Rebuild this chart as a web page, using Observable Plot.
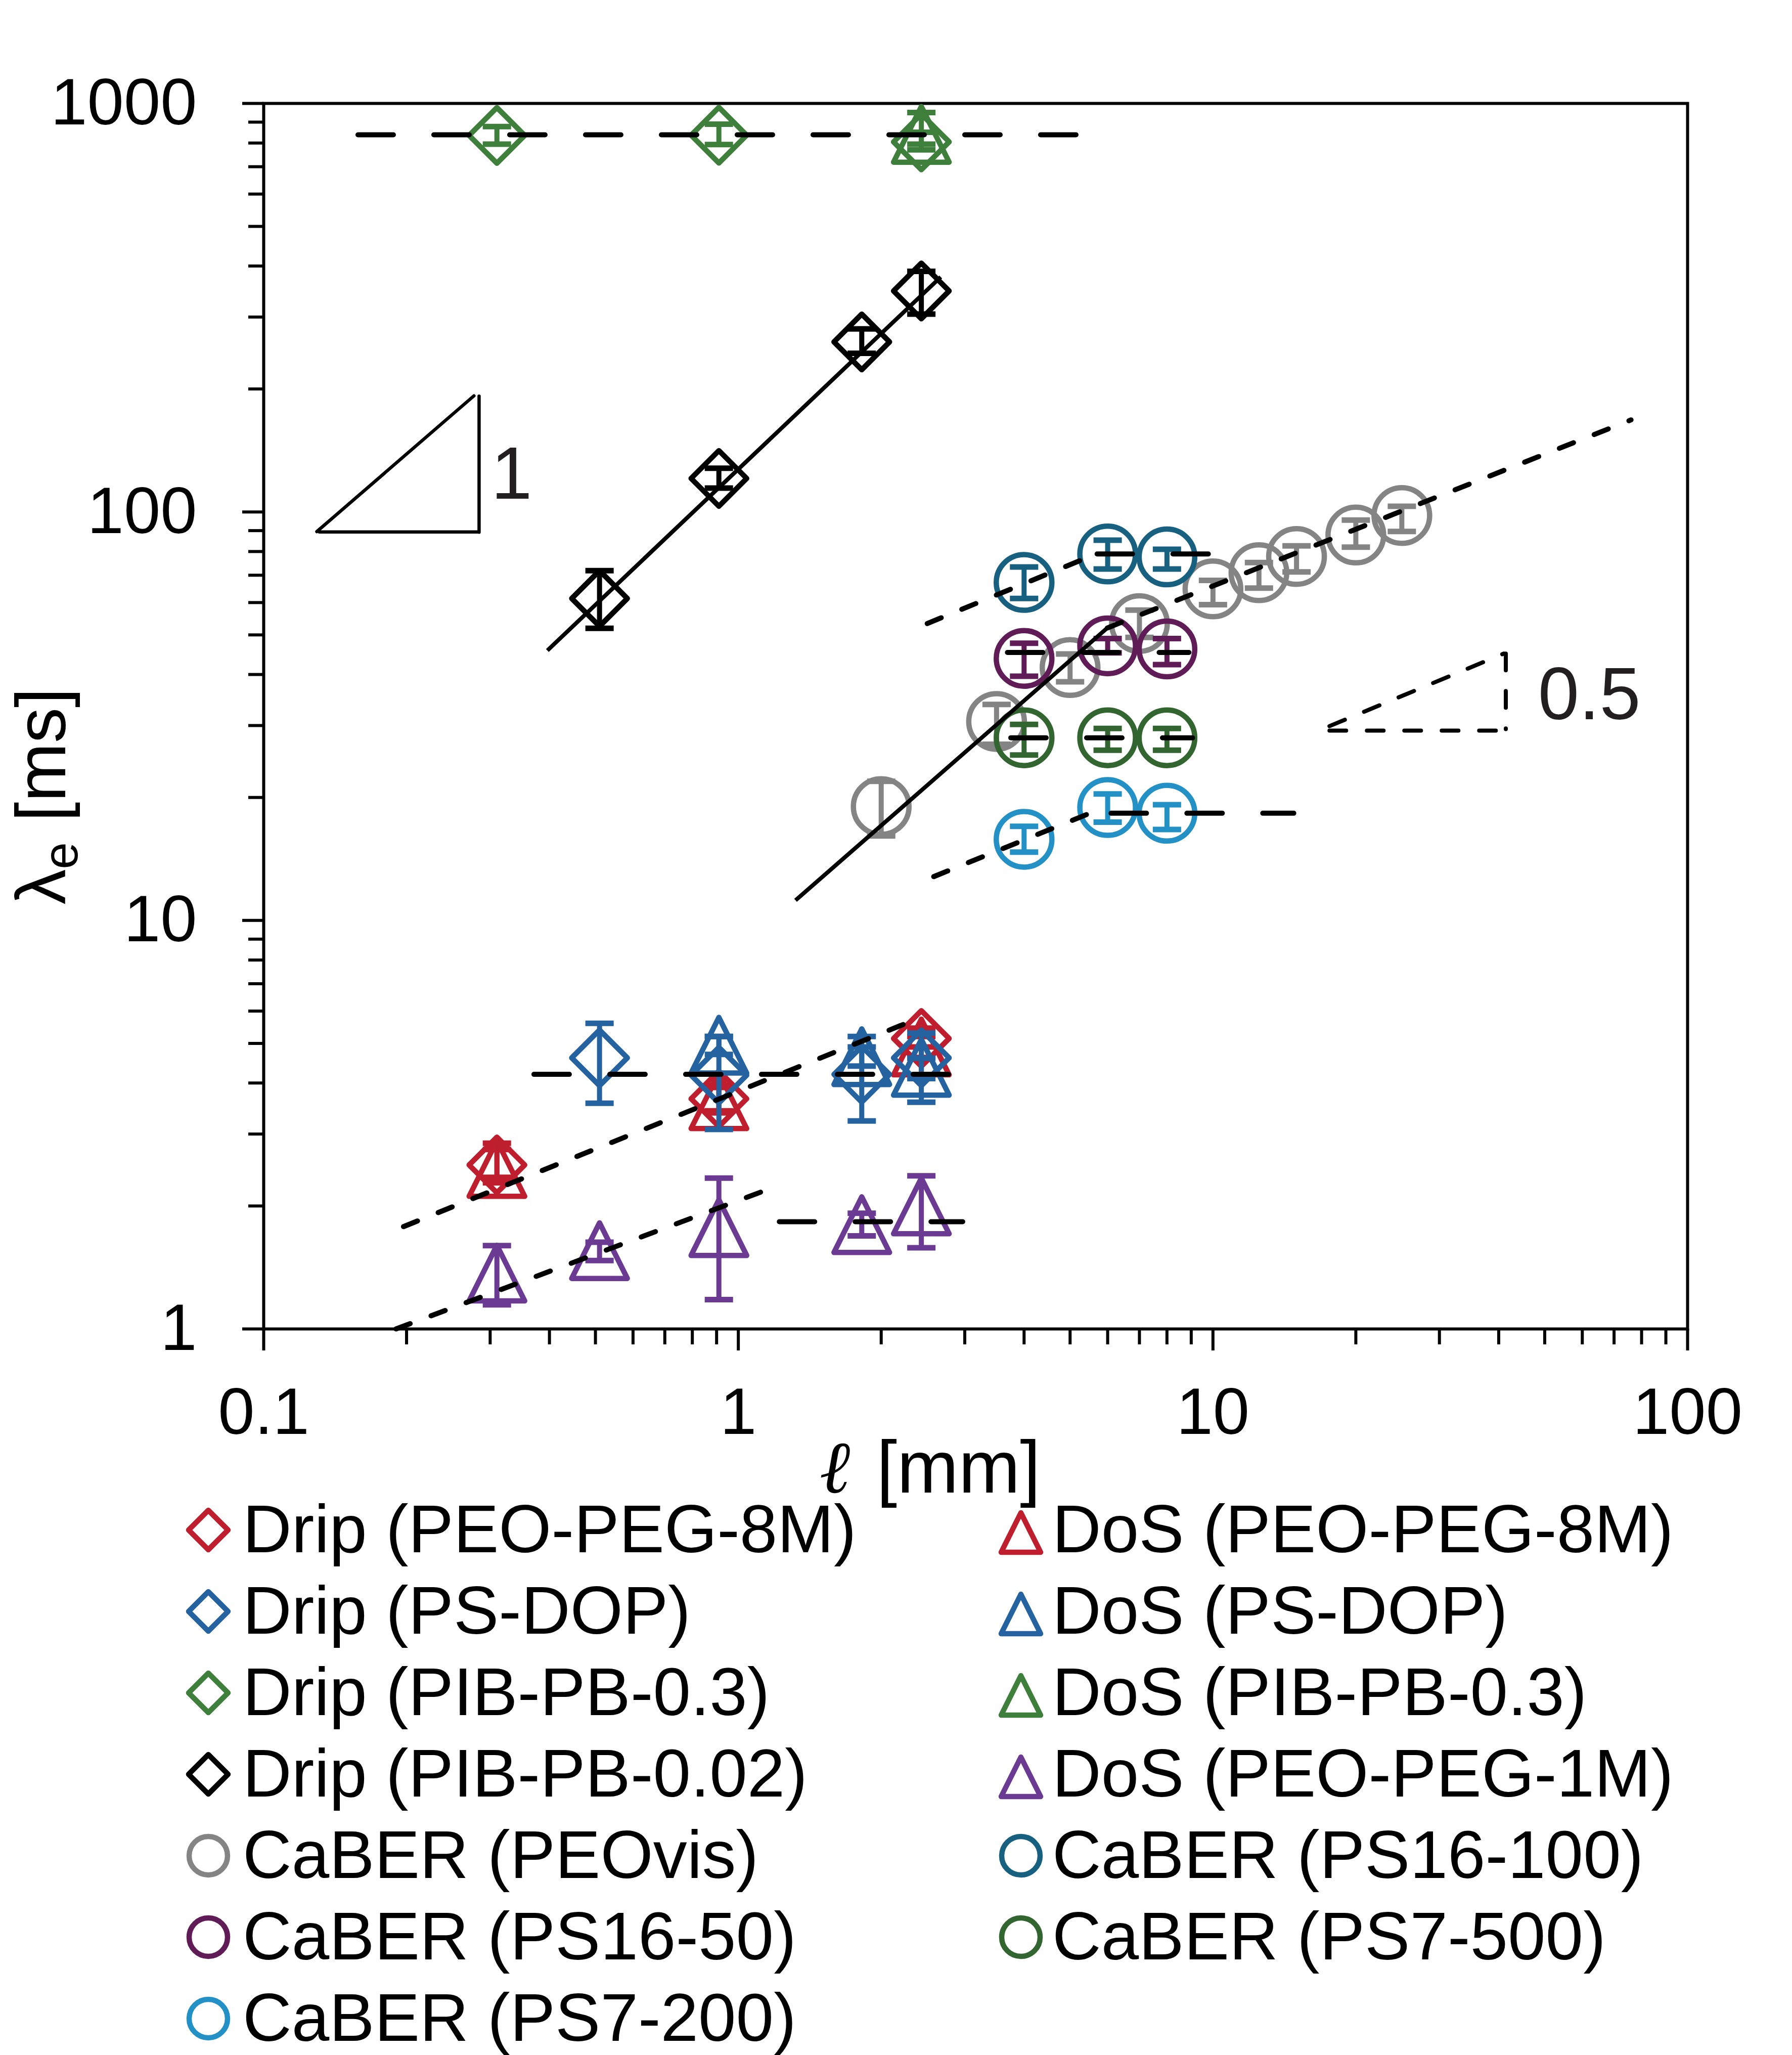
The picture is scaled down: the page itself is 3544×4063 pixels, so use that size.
<!DOCTYPE html>
<html><head><meta charset="utf-8">
<script src="https://cdn.jsdelivr.net/npm/d3@7"></script>
<script src="https://cdn.jsdelivr.net/npm/@observablehq/plot@0.6"></script>
<style>
html,body{margin:0;padding:0;background:#fff;}
#wrap{position:relative;width:3544px;height:4063px;font-family:"Liberation Sans",Arial,Helvetica,sans-serif;}
#wrap svg{position:absolute;left:0;top:0;}
</style></head><body><div id="wrap"></div>
<script>
// ---------- axis ticks ----------
const xTicks = [0.1, 1, 10, 100];
const xTickLabels = ["0.1", "1", "10", "100"];
const yTicks = [1, 10, 100, 1000];
const yTickLabels = ["1", "10", "100", "1000"];
const minorSteps = [2, 3, 4, 5, 6, 7, 8, 9];

// ---------- series: [ℓ (mm), λe (ms), error low, error high] ----------
const dripPEOPEG8M = [[0.31, 2.52, 2.35, 2.85], [0.91, 3.66, 3.42, 3.95], [2.43, 5.14, 4.9, 5.45]];
const dosPEOPEG8M  = [[0.31, 2.47, 2.28, 2.75], [0.91, 3.62, 3.38, 3.9], [2.43, 4.9, 4.62, 5.2]];
const dripPSDOP    = [[0.51, 4.61, 3.57, 5.6], [0.91, 4.18, 3.08, 5.2], [1.82, 4.2, 3.23, 5.2], [2.43, 4.61, 3.59, 5.3]];
const dosPSDOP     = [[0.91, 4.95, 4.7, 5.2], [1.82, 4.64, 4.4, 4.9], [2.43, 4.37, 4.1, 4.6]];
const dripPIBPB03  = [[0.31, 835, 795, 878], [0.91, 836, 793, 890], [2.43, 805, 770, 850]];
const dosPIBPB03   = [[2.43, 840, 795, 950]];
const dripPIBPB002 = [[0.51, 61.4, 51.9, 71.8], [0.91, 120.8, 114.4, 127.9], [1.82, 260.8, 244.5, 280.6], [2.43, 347.5, 305, 388]];
const dosPEOPEG1M  = [[0.31, 1.37, 1.146, 1.6], [0.51, 1.555, 1.47, 1.63], [0.91, 1.77, 1.18, 2.34], [1.82, 1.8, 1.69, 1.92], [2.43, 2.0, 1.58, 2.37]];
const caberPEOvis  = [[2, 19.0, 16.1, 21.9], [3.5, 30.7, 27.0, 33.8], [5, 41.6, 38.4, 44.9], [7, 53.3, 49.3, 57.5], [10, 64.8, 59.3, 68.0], [12.5, 71.0, 65.1, 75.2], [15, 77.8, 71.3, 82.6], [20, 87.8, 82.0, 95.5], [25, 98.0, 89.6, 103.2]];
const caberPS16_100 = [[4, 67.2, 61.4, 73.3], [6, 78.9, 72.5, 85.3], [8, 77.6, 72.5, 81.0]];
const caberPS16_50  = [[4, 43.8, 39.6, 47.7], [6, 47.0, 45.2, 49.0], [8, 46.2, 42.3, 49.0]];
const caberPS7_500  = [[4, 28.0, 25.4, 30.2], [6, 28.0, 26.1, 29.5], [8, 28.0, 26.1, 29.5]];
const caberPS7_200  = [[4, 15.8, 14.7, 17.0], [6, 18.9, 17.4, 20.4], [8, 18.3, 16.7, 19.2]];

// ---------- fit lines: [x1, y1, x2, y2] ----------
const fitSolid   = [[0.396, 45.8, 2.67, 376], [1.32, 11.2, 5.99, 52.0]];
const fitSlope   = [[5.99, 52.0, 76, 168], [2.50, 53.3, 5.64, 78.7], [2.58, 12.8, 5.86, 18.85], [0.197, 1.78, 2.44, 5.81], [0.19, 1.0, 1.16, 2.2]];
const fitPlateau = [[0.158, 838, 5.27, 838], [0.371, 4.2, 2.84, 4.2], [1.22, 1.83, 2.97, 1.83], [5.7, 78.9, 10.0, 78.9], [3.69, 45.3, 8.9, 45.3], [3.75, 28.0, 9.06, 28.0], [6.1, 18.3, 14.8, 18.3]];
// slope triangles
const slopeOneTriangle  = [[0.1294, 89.5, 0.2773, 192.4], [0.131, 89.3, 0.283, 89.3], [0.2843, 192, 0.2843, 89.2]];
const slopeHalfTriangle = [[17.6, 29.9, 41.0, 45.0], [17.6, 29.15, 40.9, 29.15], [41.4, 45.0, 41.4, 29.4]];
const slopeLabelText = ["1", "0.5"];
const slopeLabelX = [0.3014, 48.4];
const slopeLabelY = [107.7, 31.1];

// ---------- series metadata ----------
const seriesNames  = ["Drip (PEO-PEG-8M)", "DoS (PEO-PEG-8M)", "Drip (PS-DOP)", "DoS (PS-DOP)", "Drip (PIB-PB-0.3)", "DoS (PIB-PB-0.3)", "Drip (PIB-PB-0.02)", "DoS (PEO-PEG-1M)", "CaBER (PEOvis)", "CaBER (PS16-100)", "CaBER (PS16-50)", "CaBER (PS7-500)", "CaBER (PS7-200)"];
const seriesData   = [dripPEOPEG8M, dosPEOPEG8M, dripPSDOP, dosPSDOP, dripPIBPB03, dosPIBPB03, dripPIBPB002, dosPEOPEG1M, caberPEOvis, caberPS16_100, caberPS16_50, caberPS7_500, caberPS7_200];
const seriesColors = ["#be1e2d", "#be1e2d", "#2462a0", "#2462a0", "#3f7f3c", "#3f7f3c", "#000000", "#6b3a93", "#848484", "#176080", "#5f1c57", "#326530", "#2390c6"];
const seriesShapes = ["diamond", "triangle", "diamond", "triangle", "diamond", "triangle", "diamond", "triangle", "circle", "circle", "circle", "circle", "circle"];
const legendLeft  = ["Drip (PEO-PEG-8M)", "Drip (PS-DOP)", "Drip (PIB-PB-0.3)", "Drip (PIB-PB-0.02)", "CaBER (PEOvis)", "CaBER (PS16-50)", "CaBER (PS7-200)"];
const legendRight = ["DoS (PEO-PEG-8M)", "DoS (PS-DOP)", "DoS (PIB-PB-0.3)", "DoS (PEO-PEG-1M)", "CaBER (PS16-100)", "CaBER (PS7-500)"];

// ---------- symbols ----------
const diamondSym = {draw(c, s) { const r = Math.sqrt(s / Math.PI); c.moveTo(0, -r); c.lineTo(r, 0); c.lineTo(0, r); c.lineTo(-r, 0); c.closePath(); }};
const triangleSym = {draw(c, s) { const r = Math.sqrt(s / Math.PI); c.moveTo(0, -r); c.lineTo(r, r); c.lineTo(-r, r); c.closePath(); }};
const capSym = {draw(c, s) { const r = Math.sqrt(s / Math.PI); c.moveTo(-r, 0); c.lineTo(r, 0); }};
const symOf = {diamond: diamondSym, triangle: triangleSym, circle: d3.symbolCircle};

// ---------- layout ----------
const W = 3544, H = 3000, ML = 521, MR = 3544 - 3337, MT = 204, MB = H - 2627;
const FONT = "Liberation Sans, Arial, Helvetica, sans-serif";

const xMinor = xTicks.slice(0, -1).flatMap(d => minorSteps.map(k => d * k));
const yMinor = yTicks.slice(0, -1).flatMap(d => minorSteps.map(k => d * k));
const xFmt = new Map(xTicks.map((t, i) => [t, xTickLabels[i]]));
const yFmt = new Map(yTicks.map((t, i) => [t, yTickLabels[i]]));
const seg = a => a.map(([x1, y1, x2, y2]) => ({x1, y1, x2, y2}));

function at(text, sx, sy, o) {
  return Plot.text([text], {text: d => d, frameAnchor: "top-left", dx: sx - ML, dy: sy - MT,
    lineAnchor: "bottom", textAnchor: "start", fill: "#000", fontFamily: FONT, ...o});
}

const marks = [Plot.frame({stroke: "black", strokeWidth: 6})];

seriesData.forEach((data, i) => {
  const rows = data.map(([x, y, lo, hi]) => ({x, y, lo, hi}));
  const col = seriesColors[i];
  marks.push(
    Plot.ruleX(rows, {x: "x", y1: "lo", y2: "hi", stroke: col, strokeWidth: 10}),
    Plot.dot(rows, {x: "x", y: "lo", symbol: capSym, r: 28, stroke: col, strokeWidth: 11, fill: "none", strokeLinecap: "butt"}),
    Plot.dot(rows, {x: "x", y: "hi", symbol: capSym, r: 28, stroke: col, strokeWidth: 11, fill: "none", strokeLinecap: "butt"}),
    Plot.dot(rows, {x: "x", y: "y", symbol: symOf[seriesShapes[i]], r: 55, stroke: col, strokeWidth: 10.5, fill: "none", strokeLinejoin: "round"})
  );
});

marks.push(
  Plot.link(seg(fitSolid), {x1: "x1", y1: "y1", x2: "x2", y2: "y2", stroke: "black", strokeWidth: 8}),
  Plot.link(seg(fitSlope), {x1: "x1", y1: "y1", x2: "x2", y2: "y2", stroke: "black", strokeWidth: 10, strokeDasharray: "30,44", strokeLinecap: "round"}),
  Plot.link(seg(fitPlateau), {x1: "x1", y1: "y1", x2: "x2", y2: "y2", stroke: "black", strokeWidth: 10, strokeDasharray: "70,80", strokeLinecap: "round"}),
  Plot.link(seg(slopeOneTriangle), {x1: "x1", y1: "y1", x2: "x2", y2: "y2", stroke: "black", strokeWidth: 6.5, strokeLinecap: "round"}),
  Plot.link(seg(slopeHalfTriangle), {x1: "x1", y1: "y1", x2: "x2", y2: "y2", stroke: "black", strokeWidth: 8, strokeDasharray: "33,41", strokeLinecap: "round"}),
  Plot.text(slopeLabelText.map((t, i) => ({t, x: slopeLabelX[i], y: slopeLabelY[i]})), {x: "x", y: "y", text: "t", fontSize: 146, textAnchor: "start", lineAnchor: "bottom", fill: "#231f20", fontFamily: FONT}),
  Plot.axisX(xTicks, {anchor: "bottom", tickSize: 43, tickPadding: 72, tickFormat: d => xFmt.get(d), fontSize: 130, strokeWidth: 6, label: null, fontFamily: FONT}),
  Plot.axisX(xMinor, {anchor: "bottom", tickSize: 31, tickFormat: () => "", strokeWidth: 6, label: null}),
  Plot.axisY(yTicks, {anchor: "left", tickSize: 42, tickPadding: 90, tickFormat: d => yFmt.get(d), fontSize: 130, strokeWidth: 6, label: null, fontFamily: FONT}),
  Plot.axisY(yMinor, {anchor: "left", tickSize: 30, tickFormat: () => "", strokeWidth: 6, label: null}),
  // axis titles
  at("ℓ", 1620, 2950, {fontSize: 146, fontStyle: "italic", fontFamily: "Liberation Serif, serif"}),
  at("[mm]", 1733, 2950, {fontSize: 146}),
  at("λ", 128, 1788, {fontSize: 140, rotate: -90}),
  at("e", 152, 1718, {fontSize: 96, rotate: -90}),
  at("[ms]", 128, 1624, {fontSize: 140, rotate: -90})
);

const chart = Plot.plot({
  width: W, height: H,
  marginLeft: ML, marginRight: MR, marginTop: MT, marginBottom: MB,
  x: {type: "log", domain: [0.1, 100], label: null},
  y: {type: "log", domain: [1, 1000], label: null},
  style: {fontFamily: FONT, overflow: "visible", background: "transparent", color: "black"},
  marks
});
const wrap = document.getElementById("wrap");
wrap.appendChild(chart);

// ---------- legend (below the chart) ----------
const legTop = 2940;
const leg = d3.create("svg").attr("width", W).attr("height", 4063 - legTop)
  .style("position", "absolute").style("left", "0px").style("top", legTop + "px");
const rowBase = i => 3069 + 161 * i - legTop;
function legendItem(name, i, mx, tx) {
  const k = seriesNames.indexOf(name);
  const shape = seriesShapes[k];
  const r = shape === "circle" ? 38 : 39;
  const cy = shape === "triangle" ? rowBase(i) - 39 : rowBase(i) - 44;
  leg.append("path")
    .attr("d", d3.symbol(symOf[shape], r * r * Math.PI)())
    .attr("transform", `translate(${mx},${cy})`)
    .attr("fill", "none").attr("stroke", seriesColors[k])
    .attr("stroke-width", 10.5).attr("stroke-linejoin", "round");
  leg.append("text").attr("x", tx).attr("y", rowBase(i))
    .attr("font-family", FONT).attr("font-size", 134).attr("fill", "#000").text(name);
}
legendLeft.forEach((n, i) => legendItem(n, i, 412, 480));
legendRight.forEach((n, i) => legendItem(n, i, 2019, 2081));
wrap.appendChild(leg.node());
</script></body></html>
